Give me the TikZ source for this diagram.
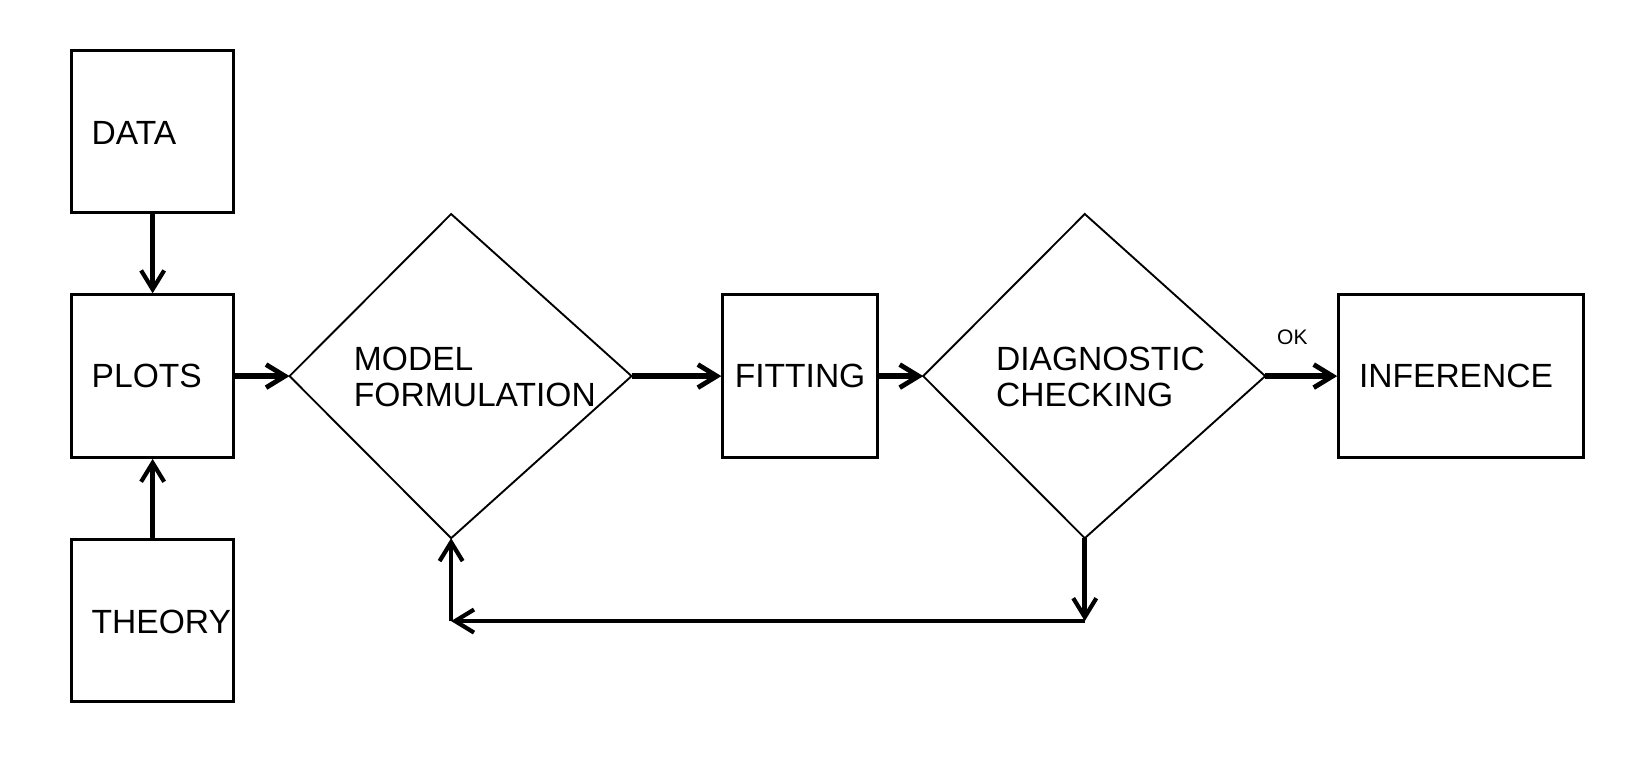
\documentclass[tikz,border=0pt]{standalone}
\usepackage{fontspec}
\setmainfont{Liberation Sans}
\usetikzlibrary{arrows.meta}
\begin{document}
\begin{tikzpicture}[x=0.5pt,y=-0.5pt,
  box/.style={draw,line width=1.4pt,inner sep=0pt,minimum height=77.5pt},
  dia/.style={draw,line width=0.9pt,line join=miter},
  lbl/.style={anchor=base west,inner sep=0pt,font=\fontsize{16}{19}\selectfont},
  oklbl/.style={anchor=base west,inner sep=0pt,font=\fontsize{10}{12}\selectfont},
  arr/.style={line width=2.2pt,-{Straight Barb[length=9pt,width=11pt,line width=2pt]}},
  arrh/.style={line width=2.7pt,-{Straight Barb[length=9pt,width=11pt,line width=2.3pt]}}]
\useasboundingbox (0,0) rectangle (1568,731);
% boxes
\node[box,minimum width=77.5pt] (data) at (145.5,125.5) {};
\node[box,minimum width=77.5pt] (plots) at (145.5,358.5) {};
\node[box,minimum width=77.5pt] (theory) at (145.5,591.5) {};
\node[box,minimum width=73.5pt] (fitting) at (762.5,358.5) {};
\node[box,minimum width=116.5pt] (inference) at (1392.5,358.5) {};
% diamonds (vertices)
\coordinate (d1w) at (276,358.5);
\coordinate (d1n) at (430,204);
\coordinate (d1e) at (602,358.5);
\coordinate (d1s) at (430,513);
\coordinate (d2w) at (880,358.5);
\coordinate (d2n) at (1034,204);
\coordinate (d2e) at (1206,358.5);
\coordinate (d2s) at (1034,513);
\draw[dia] (d1w) -- (d1n) -- (d1e) -- (d1s) -- cycle;
\draw[dia] (d2w) -- (d2n) -- (d2e) -- (d2s) -- cycle;
% texts
\node[lbl] (tdata) at (87,138) {DATA};
\node[lbl] (tplots) at (87,369) {PLOTS};
\node[lbl] (ttheory) at (87,604) {THEORY};
\node[lbl] (tmodel) at (337,353) {MODEL};
\node[lbl] (tform) at (337,387) {FORMULATION};
\node[lbl] (tfit) at (700,369) {FITTING};
\node[lbl] (tdiag) at (949,353) {DIAGNOSTIC};
\node[lbl] (tcheck) at (949,387) {CHECKING};
\node[lbl] (tinf) at (1295,369) {INFERENCE};
\node[oklbl] (tok) at (1217,328) {OK};
% connectors
\draw[arr] (data.south) -- (plots.north);
\draw[arr] (theory.north) -- (plots.south);
\draw[arrh] (plots.east) -- (d1w);
\draw[arrh] (d1e) -- (fitting.west);
\draw[arrh] (fitting.east) -- (d2w);
\draw[arrh] (d2e) -- (inference.west);
\coordinate (c1) at (1034,592);
\coordinate (c2) at (430,592);
\draw[arr] (d2s) -- (c1);
\draw[arr] (c1) -- (c2);
\draw[arr] (c2) -- (d1s);
\end{tikzpicture}
\end{document}
